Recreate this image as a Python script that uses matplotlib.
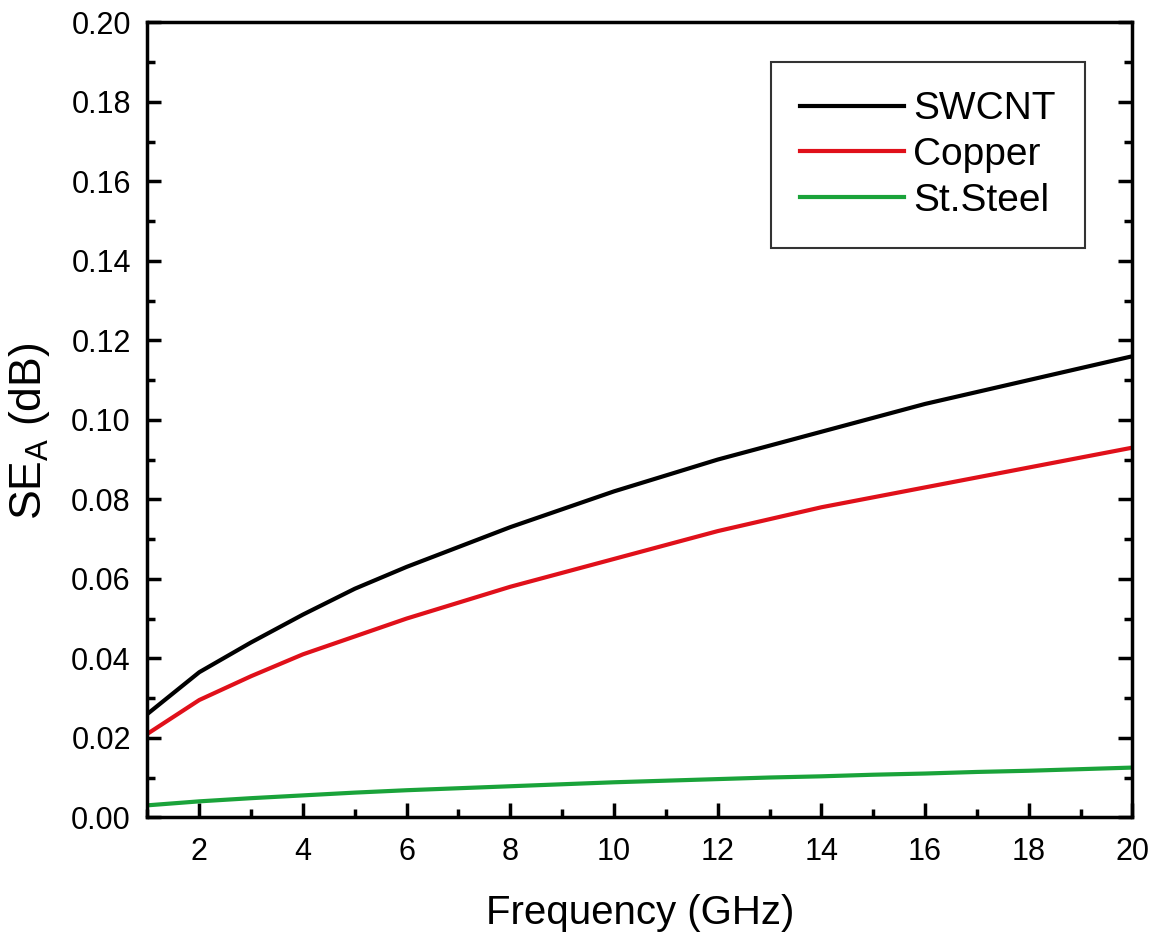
import numpy as np
import matplotlib
matplotlib.use('Agg')
import matplotlib.pyplot as plt
from matplotlib.ticker import MultipleLocator

plt.rcParams['font.family'] = ['Liberation Sans', 'DejaVu Sans']

# values
freq = [1, 2, 3, 4, 5, 6, 7, 8, 9, 10, 11, 12, 13, 14, 15, 16, 17, 18, 19, 20]
swcnt = [0.026, 0.0365, 0.044, 0.051, 0.0575, 0.063, 0.068, 0.073, 0.0775, 0.082,
         0.086, 0.090, 0.0935, 0.097, 0.1005, 0.104, 0.107, 0.110, 0.113, 0.116]
copper = [0.021, 0.0295, 0.0355, 0.041, 0.0455, 0.050, 0.054, 0.058, 0.0615, 0.065,
          0.0685, 0.072, 0.075, 0.078, 0.0805, 0.083, 0.0855, 0.088, 0.0905, 0.093]
steel = [0.003, 0.004, 0.0048, 0.0055, 0.0062, 0.0068, 0.0073, 0.0078, 0.0083, 0.0088,
         0.0092, 0.0096, 0.0100, 0.0103, 0.0107, 0.0110, 0.0114, 0.0117, 0.0121, 0.0125]

fig = plt.figure(figsize=(11.52, 9.34), dpi=100)
ax = fig.add_axes([0.128, 0.125, 0.855, 0.851])

ax.plot(freq, swcnt, color='black', lw=3, label='SWCNT')
ax.plot(freq, copper, color='#e0101a', lw=3, label='Copper')
ax.plot(freq, steel, color='#1aa33a', lw=3, label='St.Steel')

ax.set_xlim(1, 20)
ax.set_ylim(0, 0.2)
ax.xaxis.set_major_locator(MultipleLocator(2))
ax.xaxis.set_minor_locator(MultipleLocator(1))
ax.yaxis.set_major_locator(MultipleLocator(0.02))
ax.yaxis.set_minor_locator(MultipleLocator(0.01))
ax.yaxis.set_major_formatter(plt.FormatStrFormatter('%.2f'))
ax.tick_params(which='both', direction='in', right=True, top=False, labelsize=22, width=2.5)
ax.tick_params(which='major', length=10)
ax.tick_params(which='minor', length=6)
ax.tick_params(axis='x', pad=14)
ax.tick_params(axis='y', pad=12)
for s in ax.spines.values():
    s.set_linewidth(2.5)

ax.set_xlabel('Frequency (GHz)', fontsize=29, labelpad=20)
ax.set_ylabel('SE$_\\mathregular{A}$ (dB)', fontsize=32)
ax.yaxis.set_label_coords(-0.097, 0.485)

leg = ax.legend(loc='upper right', bbox_to_anchor=(0.952, 0.950), fontsize=28,
                frameon=True, fancybox=False, edgecolor='black', handlelength=2.67,
                borderpad=0.75, borderaxespad=0, labelspacing=0.25, handletextpad=0.25)
leg.get_frame().set_linewidth(1.5)

fig.savefig('out.png', dpi=100)
